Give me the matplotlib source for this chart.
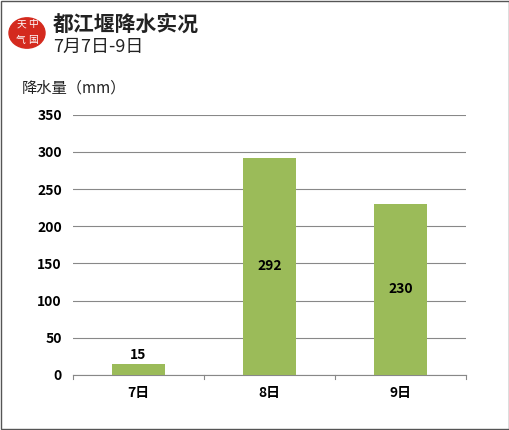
import matplotlib.pyplot as plt
from matplotlib.patches import Circle, Rectangle

plt.rcParams['font.family'] = ['Noto Sans CJK SC', 'DejaVu Sans']

days = ['7日', '8日', '9日']
rain = [15, 292, 230]
yticks = [0, 50, 100, 150, 200, 250, 300, 350]

fig = plt.figure(figsize=(5.1, 4.3), dpi=100)
fig.patches.append(Rectangle((0.002, 0.002), 0.996, 0.996, transform=fig.transFigure,
                             fill=False, edgecolor='#555555', linewidth=1))
ax = fig.add_axes([0.143, 0.128, 0.771, 0.605])

x = range(len(days))
bars = ax.bar(x, rain, width=0.4, color='#9BBB59', zorder=3)
for i, v in enumerate(rain):
    if v < 40:
        ax.text(i, v + 2, str(v), ha='center', va='bottom', fontsize=10, fontweight='bold')
    else:
        ax.text(i, v / 2, str(v), ha='center', va='center', fontsize=10, fontweight='bold')

ax.set_xlim(-0.5, 2.5)
ax.set_ylim(0, 350)
ax.set_yticks(yticks)
ax.set_xticks(list(x))
ax.set_xticklabels(days, fontsize=10, fontweight='bold')
ax.tick_params(axis='y', labelsize=10, length=0, pad=8)
ax.tick_params(axis='x', length=0, pad=8)
for lbl in ax.get_yticklabels():
    lbl.set_fontweight('bold')
ax.grid(axis='y', color='#888888', linewidth=0.8, zorder=0)
for s in ['top', 'right', 'left']:
    ax.spines[s].set_visible(False)
ax.spines['bottom'].set_color('#888888')
for b in [-0.5, 0.5, 1.5, 2.5]:
    ax.plot([b, b], [0, -5], color='#888888', linewidth=0.8, clip_on=False)

# seal logo
fig.patches.append(Circle((27 / 510, 1 - 33 / 430), 18 / 510, transform=fig.transFigure,
                          color='#D42A1E'))
fig.text(21 / 510, 1 - 26 / 430, '天', color='white', fontsize=7, ha='center', va='center')
fig.text(33 / 510, 1 - 24 / 430, '中', color='white', fontsize=7, ha='center', va='center')
fig.text(21 / 510, 1 - 40 / 430, '气', color='white', fontsize=7, ha='center', va='center')
fig.text(33 / 510, 1 - 40 / 430, '国', color='white', fontsize=7, ha='center', va='center')

fig.text(53 / 510, 1 - 24 / 430, '都江堰降水实况', fontsize=15, fontweight='bold',
         va='center', color='#222222')
fig.text(53 / 510, 1 - 47 / 430, '7月7日-9日', fontsize=13, va='center', color='#222222')
fig.text(22 / 510, 1 - 88 / 430, '降水量（mm）', fontsize=11, va='center', color='#222222')

fig.savefig('out.png')
